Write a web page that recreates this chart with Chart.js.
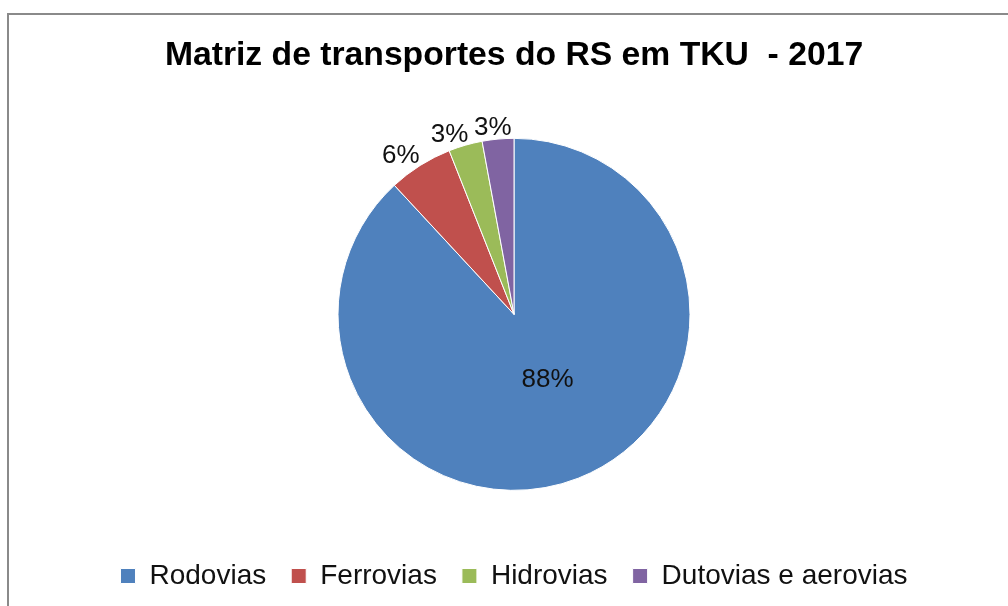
<!DOCTYPE html>
<html>
<head>
<meta charset="utf-8">
<script src="https://cdn.jsdelivr.net/npm/chart.js@4"></script>
<style>
  html, body { margin: 0; padding: 0; background: #fff; overflow: hidden; }
  #wrap { position: relative; width: 1008px; height: 606px; }
  #frame {
    position: absolute; left: 7px; top: 13px; width: 1100px; height: 700px;
    border: 2px solid #8a8a8a; pointer-events: none;
  }
  canvas { position: absolute; left: 0; top: 0; }
</style>
</head>
<body>
<div id="wrap">
  <canvas id="chart" width="1008" height="606"></canvas>
  <div id="frame"></div>
</div>
<script>
const categories = ["Rodovias", "Ferrovias", "Hidrovias", "Dutovias e aerovias"];
const shares = [88.1, 5.9, 3.1, 2.9];
const colors = ["#4F81BD", "#C0504D", "#9BBB59", "#8064A2"];
const titleText = "Matriz de transportes do RS em TKU  - 2017";

const FONT = "'Liberation Sans', Arial, sans-serif";

// percent labels: biggest slice inside, the rest just outside the rim
const pctLabels = {
  id: "pctLabels",
  afterDatasetsDraw(chart) {
    const ctx = chart.ctx;
    const meta = chart.getDatasetMeta(0);
    const total = shares.reduce((a, b) => a + b, 0);
    ctx.save();
    ctx.font = "26px " + FONT;
    ctx.fillStyle = "#111";
    ctx.textAlign = "center";
    ctx.textBaseline = "middle";
    meta.data.forEach((arc, i) => {
      const { x, y, startAngle, endAngle, outerRadius } =
        arc.getProps(["x", "y", "startAngle", "endAngle", "outerRadius"], true);
      const mid = (startAngle + endAngle) / 2;
      const dx = Math.cos(mid), dy = Math.sin(mid);
      const txt = Math.round(shares[i] / total * 100) + "%";
      if (i === 0) {
        ctx.fillText(txt, x + dx * outerRadius * 0.43 + 6, y + dy * outerRadius * 0.43 - 5);
        return;
      }
      // push the text box outward so its near corner sits off the rim
      const w = ctx.measureText(txt).width, h = 20;
      const r = outerRadius + 1;
      const sx = Math.sign(dx) * Math.min(1, Math.abs(dx) * 3) * w / 2;
      ctx.fillText(txt, x + dx * r + sx, y + dy * r + dy * h / 2);
    });
    ctx.restore();
  }
};

new Chart(document.getElementById("chart"), {
  type: "pie",
  data: {
    labels: categories,
    datasets: [{
      data: shares,
      backgroundColor: colors,
      borderColor: "#ffffff",
      borderWidth: 1,
      radius: 176
    }]
  },
  options: {
    responsive: false,
    animation: false,
    layout: { padding: { left: 20, right: 0, top: 0, bottom: 6 } },
    plugins: {
      title: {
        display: true,
        text: titleText,
        color: "#000",
        font: { family: FONT, size: 33.7, weight: "bold", lineHeight: 1 },
        padding: { top: 38.5, bottom: 19.5 }
      },
      legend: {
        position: "bottom",
        labels: {
          color: "#111",
          font: { family: FONT, size: 28 },
          boxWidth: 15,
          boxHeight: 15,
          padding: 25
        }
      },
      tooltip: { enabled: false }
    }
  },
  plugins: [pctLabels]
});
</script>
</body>
</html>
